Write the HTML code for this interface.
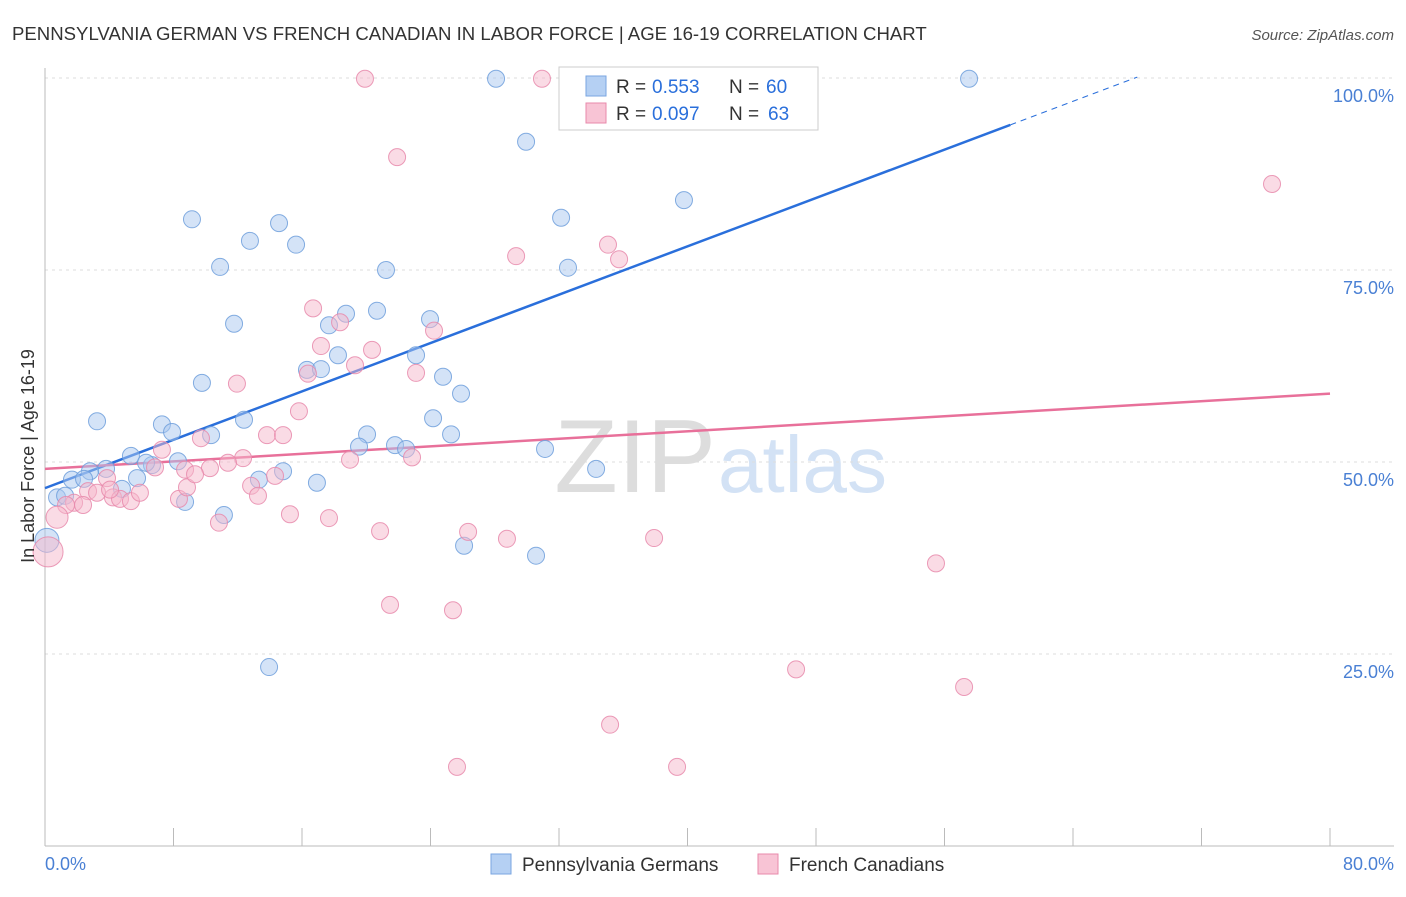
<!DOCTYPE html>
<html><head><meta charset="utf-8"><style>
body{margin:0;background:#fff;font-family:"Liberation Sans",sans-serif;}
svg text{font-family:"Liberation Sans",sans-serif;}
</style></head><body>
<svg id="chart" width="1406" height="892">
<text x="12" y="40" font-size="18.6" fill="#333">PENNSYLVANIA GERMAN VS FRENCH CANADIAN IN LABOR FORCE | AGE 16-19 CORRELATION CHART</text>
<text x="1394" y="40" font-size="15" fill="#555" font-style="italic" text-anchor="end">Source: ZipAtlas.com</text>
<text x="716" y="492" font-size="104" fill="#ddd" text-anchor="end" font-family="Liberation Serif">ZIP</text>
<text x="718" y="492" font-size="80" fill="#d3e2f5">atlas</text>
<g id="grid"></g><g id="axes"></g><g id="lines"></g><g id="pts"></g>
<text transform="translate(34,456) rotate(-90)" font-size="18" fill="#333" text-anchor="middle">In Labor Force | Age 16-19</text>
<g>
<rect x="559" y="67" width="259" height="63" fill="#fff" stroke="#ccc"/>
<rect x="586" y="76" width="20" height="20" fill="#b5d0f3" stroke="#7aa6e0"/>
<rect x="586" y="103" width="20" height="20" fill="#f8c4d5" stroke="#e88aab"/>
<text x="616" y="93" font-size="19" fill="#333">R =</text>
<text x="652" y="93" font-size="19" fill="#2a6fdb">0.553</text>
<text x="729" y="93" font-size="19" fill="#333">N =</text>
<text x="766" y="93" font-size="19" fill="#2a6fdb">60</text>
<text x="616" y="120" font-size="19" fill="#333">R =</text>
<text x="652" y="120" font-size="19" fill="#2a6fdb">0.097</text>
<text x="729" y="120" font-size="19" fill="#333">N =</text>
<text x="768" y="120" font-size="19" fill="#2a6fdb">63</text>
</g>
<g>
<rect x="491" y="854" width="20" height="20" fill="#b5d0f3" stroke="#7aa6e0"/>
<text x="522" y="871" font-size="19" fill="#333">Pennsylvania Germans</text>
<rect x="758" y="854" width="20" height="20" fill="#f8c4d5" stroke="#e88aab"/>
<text x="789" y="871" font-size="19" fill="#333">French Canadians</text>
</g>
</svg>
<script>
const blueX=[28.08,57.53,29.95,9.15,14.57,32.13,39.78,12.76,15.63,10.90,21.23,32.56,11.77,18.74,20.67,23.97,17.68,23.10,18.24,16.31,17.18,9.77,24.78,25.90,3.24,7.28,12.39,24.16,7.91,10.34,20.05,25.28,19.55,21.79,22.48,31.13,5.35,8.28,6.66,3.80,2.80,6.29,14.82,13.32,16.93,1.68,2.43,5.73,4.79,0.75,1.25,8.72,11.14,0.12,26.09,30.57,34.31,13.95,37.98];
const blueY=[99.9,99.9,91.7,81.6,81.1,81.8,84.1,78.8,78.3,75.4,75.0,75.3,68.0,69.3,69.7,68.6,67.8,63.9,63.9,62.0,62.1,60.3,61.1,58.9,55.3,54.9,55.5,55.7,53.9,53.5,53.6,53.6,52.0,52.2,51.7,51.7,50.8,50.1,49.6,49.1,48.8,49.9,48.8,47.7,47.3,47.7,47.8,47.9,46.5,45.4,45.6,44.8,43.1,39.8,39.1,37.8,49.1,23.3,99.9];
const pinkX=[19.92,30.94,21.92,76.39,29.33,35.05,35.74,16.69,18.37,24.22,17.18,20.36,19.30,16.37,23.10,11.95,15.81,9.71,7.28,13.82,14.82,12.33,11.39,10.27,8.72,6.85,3.86,2.68,3.24,1.81,1.31,2.37,4.23,4.67,5.35,5.91,8.34,8.84,9.34,12.83,13.26,14.32,15.25,10.83,17.68,20.86,22.85,18.99,26.34,28.76,37.92,55.47,21.48,25.40,46.76,57.22,35.18,25.65,39.35,0.75,0.19,4.05];
const pinkY=[99.9,99.9,89.7,86.2,76.8,78.3,76.4,70.0,68.2,67.1,65.1,64.6,62.6,61.5,61.6,60.2,56.6,53.1,51.6,53.5,53.5,50.5,49.9,49.2,49.0,49.3,47.9,46.2,46.0,44.7,44.4,44.4,45.4,45.2,44.9,46.0,45.2,46.7,48.4,46.9,45.6,48.2,43.2,42.1,42.7,41.0,50.6,50.3,40.9,40.0,40.1,36.8,31.4,30.7,23.0,20.7,15.8,10.3,10.3,42.8,38.3,46.4];
const blueTrend=[46.6,0.787];
const pinkTrend=[49.1,0.1225];
const xTicks=[0,80];
const yTicks=[25,50,75,100];
const NS="http://www.w3.org/2000/svg";
const X=v=>45+v/80*1285, Y=v=>846-v/100*768;
function mk(tag,attrs,parent){const e=document.createElementNS(NS,tag);for(const k in attrs)e.setAttribute(k,attrs[k]);document.getElementById(parent).appendChild(e);return e;}
yTicks.forEach(t=>{
 const l=mk('line',{x1:45,x2:1394,y1:Y(t),y2:Y(t),stroke:'#ddd','stroke-dasharray':'3,4'},'grid');
 
 
 const tx=mk('text',{x:1394,y:Y(t)+24,'font-size':18,fill:'#4a80d4','text-anchor':'end'},'grid');tx.textContent=t.toFixed(1)+'%';
 
 
});
mk('line',{x1:45,x2:45,y1:68,y2:846,stroke:'#bbb'},'axes');
mk('line',{x1:45,x2:1394,y1:846,y2:846,stroke:'#bbb'},'axes');
for(let i=0;i<=10;i++){const t=mk('line',{x1:X(i*8),x2:X(i*8),y1:828,y2:846,stroke:'#bbb'},'axes');
 
 }
xTicks.forEach((t,i)=>{const tx=mk('text',{x:i?1394:45,y:870,'font-size':18,fill:'#4a80d4','text-anchor':i?'end':'start'},'axes');tx.textContent=t.toFixed(1)+'%';
 
 });
function pts(xs,ys,fill,stroke,name){xs.forEach((x,i)=>{let r=8.5;if(name==='pink-point'&&i>=xs.length-3&&i<xs.length-1)r=i===xs.length-2?15:11;if(name==='blue-point'&&x<0.5)r=12;
 const c=mk('circle',{cx:X(x),cy:Y(ys[i]),r:r,fill:fill,'fill-opacity':0.5,stroke:stroke,'stroke-width':1,'stroke-opacity':0.85},'pts');
 
 });}
pts(blueX,blueY,'#a9c8f0','#6f9fdc','blue-point');
pts(pinkX,pinkY,'#f5b8cc','#e88aab','pink-point');
const bl=mk('line',{x1:X(0),y1:Y(blueTrend[0]),x2:X(60.1),y2:Y(blueTrend[0]+blueTrend[1]*60.1),stroke:'#2a6fdb','stroke-width':2.5},'lines');


const bd=mk('line',{x1:X(60.1),y1:Y(blueTrend[0]+blueTrend[1]*60.1),x2:X(68),y2:Y(blueTrend[0]+blueTrend[1]*68),stroke:'#2a6fdb','stroke-width':1,'stroke-dasharray':'6,5'},'lines');


const pl=mk('line',{x1:X(0),y1:Y(pinkTrend[0]),x2:X(80),y2:Y(pinkTrend[0]+pinkTrend[1]*80),stroke:'#e8709a','stroke-width':2.5},'lines');


</script>
</body></html>
